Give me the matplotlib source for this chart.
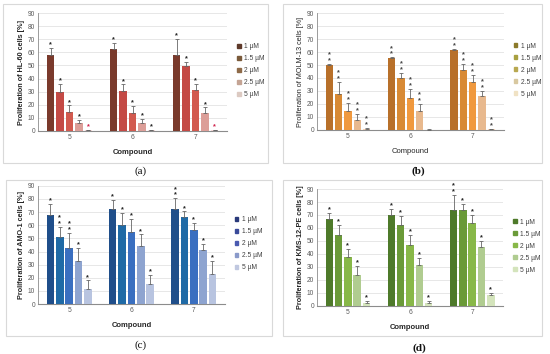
import numpy as np
import matplotlib
matplotlib.use("Agg")
from matplotlib import pyplot as plt
from matplotlib.patches import Rectangle, Patch

plt.rcParams['font.family'] = ['Liberation Sans', 'DejaVu Sans']

compounds = ["5", "6", "7"]
doses = ["1 \u00b5M", "1.5 \u00b5M", "2 \u00b5M", "2.5 \u00b5M", "5 \u00b5M"]

# values [dose][compound], upper error-bar lengths, number of stars
hl60_vals = [[58, 62.5, 58], [29.5, 30.5, 49.5], [14.5, 14, 31], [6, 6, 14], [0.5, 0.5, 0.5]]
hl60_err = [[5.5, 4.5, 12], [6.5, 5, 3], [5, 5, 5], [2.5, 3.5, 4], [0.5, 0.5, 0.5]]
hl60_star = [[1, 1, 1], [1, 1, 1], [1, 1, 1], [1, 1, 1], [1, 1, 1]]

molm_vals = [[50, 55.5, 61.5], [27.5, 40, 46], [14.5, 24.5, 37], [8, 14.5, 26.5], [1, 0.3, 0.5]]
molm_err = [[1, 0.5, 1], [9.5, 4, 5], [6.5, 7, 5.5], [4.5, 5.5, 3.5], [0.5, 0.2, 0.5]]
molm_star = [[2, 2, 2], [2, 2, 2], [2, 2, 2], [2, 2, 2], [2, 0, 2]]

amo_vals = [[68, 72, 72], [51, 60, 66], [43, 54.5, 56.5], [32.5, 44.5, 41.5], [11.5, 15.5, 23]]
amo_err = [[8, 7, 8.5], [7.5, 9.5, 4.5], [11, 10, 5], [10.5, 8.5, 4.5], [6.5, 7, 10]]
amo_star = [[1, 1, 2], [2, 1, 1], [2, 1, 1], [1, 1, 1], [1, 1, 1]]

kms_vals = [[67, 70, 73.5], [54.5, 62.5, 73.5], [37.5, 47, 63.5], [24, 31.5, 45], [2, 2.5, 8]]
kms_err = [[4.5, 5, 12], [8, 7, 5], [6.5, 7.5, 6.5], [6.5, 5.5, 5], [2, 1.5, 2]]
kms_star = [[1, 1, 2], [1, 1, 1], [1, 1, 1], [1, 1, 1], [1, 1, 1]]

panels = [
    dict(vals=hl60_vals, err=hl60_err, star=hl60_star, ylabel="Proliferation of HL-60 cells [%]",
         cols=["#7a3a2c", "#c44a45", "#d25a4f", "#dc9e98", "#f2d6d6"],
         lcols=["#5e3a2a", "#7a5a3a", "#8e6a48", "#c4a494", "#dccac2"],
         pos=[0.069, 0.630, 0.344, 0.333], frame=[0.006, 0.540, 0.482, 0.449],
         cap="(a)", cap_xy=(0.255, 0.515), bold=True, starcol="#222222"),
    dict(vals=molm_vals, err=molm_err, star=molm_star, ylabel="Proliferation of MOLM-13 cells [%]",
         cols=["#b8702a", "#d88a35", "#f0993e", "#e8b98e", "#f8d2b4"],
         lcols=["#8b7a2a", "#a8a040", "#b8a850", "#d8c8a0", "#f0e2c4"],
         pos=[0.576, 0.633, 0.340, 0.330], frame=[0.515, 0.540, 0.470, 0.449],
         cap="(b)", cap_xy=(0.760, 0.515), bold=False, starcol="#444444"),
    dict(vals=amo_vals, err=amo_err, star=amo_star, ylabel="Proliferation of AMO-1 cells [%]",
         cols=["#1f4e8a", "#1f6aa6", "#3a6fc0", "#8ea4d0", "#b8c4e0"],
         lcols=["#2a3a7a", "#3a4a9a", "#4a5ab0", "#8a9aca", "#c0c8e0"],
         pos=[0.069, 0.141, 0.340, 0.334], frame=[0.010, 0.052, 0.485, 0.440],
         cap="(c)", cap_xy=(0.255, 0.025), bold=True, starcol="#222222"),
    dict(vals=kms_vals, err=kms_err, star=kms_star, ylabel="Proliferation of KMS-12-PE cells [%]",
         cols=["#4e7a2a", "#6a9a38", "#88b848", "#b0cc90", "#d4e4bc"],
         lcols=["#4e7a2a", "#6a9a38", "#88b848", "#b0cc90", "#d4e4bc"],
         pos=[0.576, 0.136, 0.339, 0.330], frame=[0.515, 0.052, 0.470, 0.440],
         cap="(d)", cap_xy=(0.763, 0.015), bold=True, starcol="#222222"),
]

fig = plt.figure(figsize=(5.5, 3.54), dpi=100)

for p in panels:
    fx, fy, fw, fh = p["frame"]
    fig.patches.append(Rectangle((fx, fy), fw, fh, transform=fig.transFigure,
                                 fill=False, edgecolor="#d9d9d9", lw=0.8))
    ax = fig.add_axes(p["pos"])
    x = np.arange(len(compounds))
    w = 0.12
    pitch = 0.15
    for i in range(len(doses)):
        xs = x + (i - 2) * pitch
        ax.bar(xs, p["vals"][i], w, color=p["cols"][i], zorder=3)
        ax.errorbar(xs, p["vals"][i], yerr=[np.zeros(3), p["err"][i]], fmt="none",
                    ecolor="#666666", elinewidth=0.6, capsize=1.4, capthick=0.6, zorder=4)
        for j in range(3):
            top = p["vals"][i][j] + p["err"][i][j]
            col = p["starcol"]
            if p["cap"] == "(a)" and i == 4 and j != 1:
                col = "#d0204a"
            for k in range(p["star"][i][j]):
                ax.text(xs[j], top + 2.4 + k * 4.5, "*", ha="center", va="center",
                        fontsize=5.2, fontweight="bold", color=col, zorder=5)
    ax.set_ylim(0, 90)
    ax.set_xlim(-0.5, 2.5)
    ax.set_yticks(np.arange(0, 91, 10))
    ax.set_xticks(x)
    ax.set_xticklabels(compounds)
    ax.tick_params(length=0, labelsize=4.8, colors="#595959", pad=2)
    ax.yaxis.grid(True, color="#e3e3e3", lw=0.6, zorder=0)
    for s in ["top", "right"]:
        ax.spines[s].set_visible(False)
    ax.spines["left"].set_color("#8c8c8c")
    ax.spines["bottom"].set_color("#8c8c8c")
    ax.spines["left"].set_linewidth(0.6)
    ax.spines["bottom"].set_linewidth(0.8)
    fw_ = "bold" if p["bold"] else "normal"
    ax.set_ylabel(p["ylabel"], fontsize=5.2, fontweight=fw_, color="#262626", labelpad=2)
    ax.set_xlabel("Compound", fontsize=5.5, fontweight=fw_, color="#262626", labelpad=6)
    handles = [Patch(color=c) for c in p["lcols"]]
    ax.legend(handles, doses, loc="center left", bbox_to_anchor=(1.02, 0.51), frameon=False,
              fontsize=4.8, handlelength=0.55, handleheight=0.55, handletextpad=0.5,
              labelspacing=0.75, labelcolor="#404040")
    fig.text(p["cap_xy"][0], p["cap_xy"][1], p["cap"], ha="center", va="center",
             fontsize=8, family="Liberation Serif", color="#111111",
             fontweight="bold" if p["cap"] in ("(b)", "(d)") else "normal")

fig.savefig("out.png", dpi=100)
